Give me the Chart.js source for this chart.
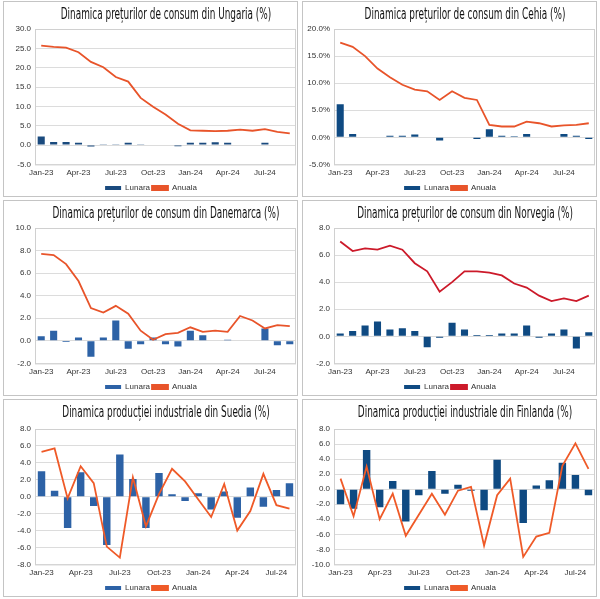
<!DOCTYPE html>
<html>
<head>
<meta charset="utf-8">
<script src="https://cdn.jsdelivr.net/npm/chart.js@4"></script>
<style>
body { margin:0; background:#fff; width:600px; height:599px; position:relative; overflow:hidden; }
.box { position:absolute; border:1px solid #c4c4c4; background:#fff; box-sizing:border-box; }
.titlu { position:absolute; top:3px; left:calc(50% + 15px); white-space:nowrap;
         font-family:'DejaVu Sans Condensed','Liberation Sans',sans-serif; font-size:15px; color:#111;
         transform:translateX(-50%) scaleX(0.66); transform-origin:center; }
</style>
</head>
<body>
<div class="box" style="left:3px;top:1px;width:295px;height:196px"><div class="titlu">Dinamica prețurilor de consum din Ungaria (%)</div><canvas id="c1"></canvas></div>
<div class="box" style="left:302px;top:1px;width:295px;height:196px"><div class="titlu">Dinamica prețurilor de consum din Cehia (%)</div><canvas id="c2"></canvas></div>
<div class="box" style="left:3px;top:200px;width:295px;height:196px"><div class="titlu">Dinamica prețurilor de consum din Danemarca (%)</div><canvas id="c3"></canvas></div>
<div class="box" style="left:302px;top:200px;width:295px;height:196px"><div class="titlu">Dinamica prețurilor de consum din Norvegia (%)</div><canvas id="c4"></canvas></div>
<div class="box" style="left:3px;top:399px;width:295px;height:198px"><div class="titlu">Dinamica producției industriale din Suedia (%)</div><canvas id="c5"></canvas></div>
<div class="box" style="left:302px;top:399px;width:295px;height:198px"><div class="titlu">Dinamica producției industriale din Finlanda (%)</div><canvas id="c6"></canvas></div>
<script>
// luni Jan-23 .. Sep-24
var luni = ['Jan-23','Feb-23','Mar-23','Apr-23','May-23','Jun-23','Jul-23','Aug-23','Sep-23','Oct-23','Nov-23','Dec-23',
            'Jan-24','Feb-24','Mar-24','Apr-24','May-24','Jun-24','Jul-24','Aug-24','Sep-24'];

var ungariaLunara = [2.2,0.8,0.8,0.6,-0.4,0.2,0.2,0.6,0.2,-0.1,0.0,-0.3,0.6,0.6,0.7,0.6,-0.1,0.0,0.6,0.0,-0.1];
var ungariaAnuala = [25.7,25.4,25.2,24.0,21.5,20.1,17.6,16.4,12.2,9.9,7.9,5.5,3.8,3.7,3.6,3.7,4.0,3.7,4.1,3.4,3.0];

var cehiaLunara = [6.1,0.6,0.1,-0.1,0.3,0.3,0.5,0.1,-0.6,0.1,0.0,-0.3,1.5,0.3,0.2,0.6,0.0,-0.1,0.6,0.3,-0.3];
var cehiaAnuala = [17.5,16.7,15.0,12.7,11.1,9.7,8.8,8.5,6.9,8.5,7.3,6.9,2.3,2.0,2.0,2.9,2.6,2.0,2.2,2.3,2.6];

var danemarcaLunara = [0.4,0.9,-0.1,0.3,-1.4,0.3,1.8,-0.7,-0.3,0.3,-0.3,-0.5,0.9,0.5,0.0,0.1,0.0,0.0,1.1,-0.4,-0.3];
var danemarcaAnuala = [7.7,7.6,6.8,5.3,2.9,2.5,3.1,2.4,0.9,0.1,0.6,0.7,1.2,0.8,0.9,0.8,2.2,1.8,1.1,1.4,1.3];

var norvegiaLunara = [0.2,0.4,0.8,1.1,0.5,0.6,0.4,-0.8,-0.1,1.0,0.5,0.1,0.1,0.2,0.2,0.8,-0.1,0.2,0.5,-0.9,0.3];
var norvegiaAnuala = [7.0,6.3,6.5,6.4,6.7,6.4,5.4,4.8,3.3,4.0,4.8,4.8,4.7,4.5,3.9,3.6,3.0,2.6,2.8,2.6,3.0];

var suediaLunara = [3.0,0.7,-3.7,2.9,-1.1,-5.7,5.0,2.1,-3.7,2.8,0.3,-0.5,0.4,-1.5,0.6,-2.5,1.1,-1.2,0.8,1.6];
var suediaAnuala = [5.3,5.7,-0.2,3.6,1.6,-5.9,-7.2,2.3,-3.5,0.3,3.3,1.8,-0.3,-2.4,1.5,-4.0,-1.7,2.7,-1.0,-1.4];

var finlandaLunara = [-2.0,-2.6,5.2,-2.4,1.1,-4.3,-0.8,2.4,-0.6,0.6,-0.2,-2.8,3.9,0.0,-4.5,0.5,1.2,3.5,1.9,-0.8];
var finlandaAnuala = [1.4,-3.6,3.0,-4.0,-0.6,-6.2,-3.4,-0.6,-3.4,-0.2,0.3,-7.5,-0.8,1.4,-9.0,-6.3,-5.8,3.1,6.1,2.7];

var chenar = {
  id: 'chenar',
  beforeDatasetsDraw: function (chart) {
    var a = chart.chartArea, ctx = chart.ctx;
    ctx.save();
    ctx.strokeStyle = '#d0d0d0';
    ctx.lineWidth = 1;
    ctx.strokeRect(a.left + 0.5, a.top + 0.5, a.right - a.left - 1, a.bottom - a.top);
    ctx.restore();
  }
};

function grafic(id, nrLuni, lunara, anuala, min, max, pas, procent, culoareBara, culoareLinie, sus) {
  var etichete = luni.slice(0, nrLuni);
  return new Chart(document.getElementById(id), {
    data: {
      labels: etichete,
      datasets: [
        { type: 'line', label: 'Anuala', data: anuala, borderColor: culoareLinie, backgroundColor: culoareLinie,
          borderWidth: 1.8, pointRadius: 0, tension: 0, order: 1 },
        { type: 'bar', label: 'Lunara', data: lunara, backgroundColor: culoareBara,
          barPercentage: 0.95, categoryPercentage: 0.6, order: 2 }
      ]
    },
    options: {
      responsive: true,
      maintainAspectRatio: false,
      animation: false,
      layout: { padding: { left: 2, right: 1, top: sus, bottom: -6 } },
      plugins: {
        legend: { position: 'bottom', reverse: true,
                  labels: { boxWidth: 16, boxHeight: 4, padding: 2, color: '#333',
                            font: { family: "'Liberation Sans', Arial, sans-serif", size: 8 } } },
        tooltip: { enabled: false }
      },
      scales: {
        x: {
          grid: { display: false, drawTicks: false },
          border: { display: false },
          ticks: { autoSkip: false, maxRotation: 0, color: '#333', padding: 4,
                   font: { family: "'Liberation Sans', Arial, sans-serif", size: 8 },
                   callback: function (v, i) { return i % 3 === 0 ? etichete[i] : ''; } }
        },
        y: {
          min: min, max: max,
          grid: { color: '#dcdcdc', drawTicks: false },
          border: { display: false },
          afterFit: function (s) { s.width = 29; },
          ticks: { stepSize: pas, color: '#333', padding: 4,
                   font: { family: "'Liberation Sans', Arial, sans-serif", size: 8 },
                   callback: function (v) { return v.toFixed(1) + (procent ? '%' : ''); } }
        }
      }
    },
    plugins: [chenar]
  });
}

grafic('c1', 21, ungariaLunara, ungariaAnuala, -5, 30, 5, false, '#1a4a7e', '#e8542a', 27);
grafic('c2', 21, cehiaLunara, cehiaAnuala, -5, 20, 5, true, '#0f4a82', '#e8542a', 27);
grafic('c3', 21, danemarcaLunara, danemarcaAnuala, -2, 10, 2, false, '#2d62a6', '#e8542a', 27);
grafic('c4', 21, norvegiaLunara, norvegiaAnuala, -2, 8, 2, false, '#0f4a82', '#cc1a2a', 27);
grafic('c5', 20, suediaLunara, suediaAnuala, -8, 8, 2, false, '#2d62a6', '#ef5a28', 29);
grafic('c6', 20, finlandaLunara, finlandaAnuala, -10, 8, 2, false, '#0f4a82', '#ef5a28', 29);
</script>
</body>
</html>
